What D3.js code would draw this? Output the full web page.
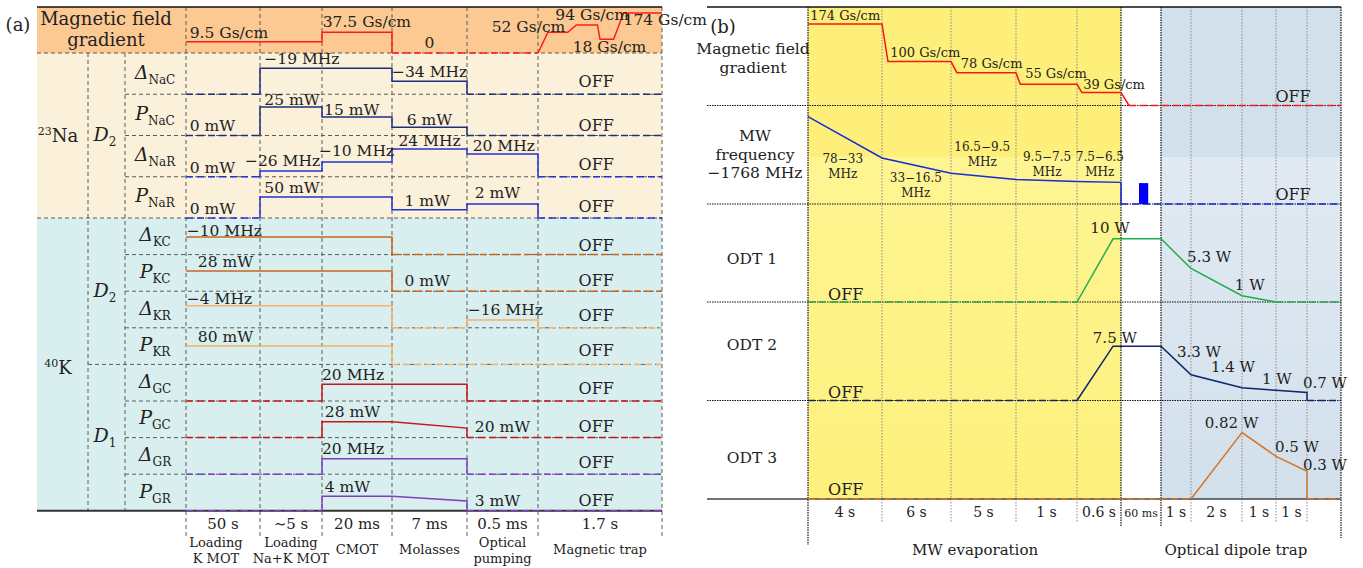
<!DOCTYPE html>
<html>
<head>
<meta charset="utf-8">
<script src="https://cdn.jsdelivr.net/npm/d3@7"></script>
<style>
  body { margin: 0; background: #fff; }
  svg text { font-family: "DejaVu Serif", serif; fill: #222; }
</style>
</head>
<body>
<svg id="chart" width="1363" height="568"></svg>
<script>
// ---------------- panel (a): MOT sequence ----------------
const phasesA = [["Loading", "K MOT"], ["Loading", "Na+K MOT"], ["CMOT"], ["Molasses"], ["Optical", "pumping"], ["Magnetic trap"]];
const durationsA = ["50 s", "∼5 s", "20 ms", "7 ms", "0.5 ms", "1.7 s"];
const rowNamesA = [["Δ", "NaC"], ["P", "NaC"], ["Δ", "NaR"], ["P", "NaR"],
                   ["Δ", "KC"], ["P", "KC"], ["Δ", "KR"], ["P", "KR"],
                   ["Δ", "GC"], ["P", "GC"], ["Δ", "GR"], ["P", "GR"]];

// traces: [phase position, level as fraction of row height], level 0 = off
const magA = [[0, .245], [2, .245], [2, .45], [3, .45], [3, 0], [5, 0], [5.08, .45], [5.24, .45],
              [5.31, .61], [5.48, .61], [5.5, .3], [5.61, .3], [5.69, .87], [6, .87]];
const dNaC = [[0, 0], [1, 0], [1, .63], [3, .63], [3, .315], [4, .315], [4, 0], [6, 0]];
const pNaC = [[0, 0], [1, 0], [1, .69], [2, .69], [2, .45], [3, .45], [3, .2], [4, .2], [4, 0], [6, 0]];
const dNaR = [[0, 0], [1, 0], [1, .14], [2, .14], [2, .36], [3, .36], [3, .67], [4, .67], [4, .55], [5, .55], [5, 0], [6, 0]];
const pNaR = [[0, 0], [1, 0], [1, .51], [3, .51], [3, .2], [4, .2], [4, .34], [5, .34], [5, 0], [6, 0]];
const dKC = [[0, .48], [3, .48], [3, 0], [6, 0]];
const pKC = [[0, .55], [3, .55], [3, 0], [6, 0]];
const dKR = [[0, .6], [3, .6], [3, 0], [4, 0], [4, .21], [5, .21], [5, 0], [6, 0]];
const pKR = [[0, .5], [3, .5], [3, 0], [6, 0]];
const dGC = [[0, 0], [2, 0], [2, .46], [4, .46], [4, 0], [6, 0]];
const pGC = [[0, 0], [2, 0], [2, .43], [3, .43], [4, .26], [4, 0], [6, 0]];
const dGR = [[0, 0], [2, 0], [2, .42], [4, .42], [4, 0], [6, 0]];
const pGR = [[0, 0], [2, 0], [2, .4], [3, .4], [4, .27], [4, 0], [6, 0]];
const tracesA = [dNaC, pNaC, dNaR, pNaR, dKC, pKC, dKR, pKR, dGC, pGC, dGR, pGR];

// value labels: [row (-1 = field gradient), text, phase position, level, anchor]
const valueLabelsA = [
  [-1, "9.5 Gs/cm", 0.05, 0.33, "start"], [-1, "37.5 Gs/cm", 2.01, 0.565, "start"],
  [-1, "0", 3.5, 0.11, "middle"], [-1, "52 Gs/cm", 5.22, 0.46, "end"],
  [-1, "94 Gs/cm", 5.14, 0.72, "start"], [-1, "18 Gs/cm", 5.28, 0.02, "start"],
  [-1, "174 Gs/cm", 5.69, 0.61, "start"],
  [0, "−19 MHz", 1.07, 0.73, "start"], [0, "−34 MHz", 3.0, 0.41, "start"],
  [1, "0 mW", 0.05, 0.11, "start"], [1, "25 mW", 1.07, 0.74, "start"],
  [1, "15 mW", 2.03, 0.5, "start"], [1, "6 mW", 3.5, 0.25, "middle"],
  [2, "0 mW", 0.05, 0.09, "start"], [2, "−26 MHz", 1.97, 0.26, "end"],
  [2, "−10 MHz", 1.95, 0.5, "start"], [2, "24 MHz", 3.5, 0.75, "middle"],
  [2, "20 MHz", 4.08, 0.62, "start"],
  [3, "0 mW", 0.05, 0.1, "start"], [3, "50 mW", 1.07, 0.61, "start"],
  [3, "1 mW", 3.47, 0.29, "middle"], [3, "2 mW", 4.11, 0.49, "start"],
  [4, "−10 MHz", 0.01, 0.51, "start"],
  [5, "28 mW", 0.16, 0.66, "start"], [5, "0 mW", 3.47, 0.14, "middle"],
  [6, "−4 MHz", 0.01, 0.65, "start"], [6, "−16 MHz", 4.01, 0.35, "start"],
  [7, "80 mW", 0.16, 0.61, "start"],
  [8, "20 MHz", 2.0, 0.57, "start"],
  [9, "28 mW", 2.04, 0.56, "start"], [9, "20 mW", 4.11, 0.15, "start"],
  [10, "20 MHz", 2.0, 0.55, "start"],
  [11, "4 mW", 2.04, 0.51, "start"], [11, "3 mW", 4.11, 0.13, "start"]
];
const offLevelA = [0.17, 0.11, 0.16, 0.15, 0.1, 0.14, 0.19, 0.23, 0.19, 0.15, 0.17, 0.13];

// ---------------- panel (b): evaporation ----------------
const durationsB = ["4 s", "6 s", "5 s", "1 s", "0.6 s", "60 ms", "1 s", "2 s", "1 s", "1 s"];
const stagesB = [["MW evaporation", 2.37], ["Optical dipole trap", 7.88]];
const rowNamesB = [["Magnetic field", "gradient"], ["MW", "frequency", "−1768 MHz"], ["ODT 1"], ["ODT 2"], ["ODT 3"]];

// traces: [phase position, value], null = off
const magB = [[0, 174], [1, 174], [1.087, 100], [2, 100], [2.09, 78], [3, 78], [3.07, 55], [4, 55],
              [4.11, 39], [5, 39], [5.2, null], [11, null]];          // Gs/cm
const mwB = [[0, 78], [1, 33], [2, 16.5], [3, 9.5], [4, 7.5], [5, 6.5], [5, null], [11, null]]; // MHz
const mwPulseT = [5.45, 5.68];
const mwPulseV = 5.7;
const odt1 = [[0, null], [4, null], [4.82, 10], [6, 10], [7, 5.3], [8, 1], [9, null], [11, null]];   // W
const odt2 = [[0, null], [4, null], [4.82, 7.5], [6, 7.5], [7, 3.3], [8, 1.4], [9, 1], [10, 0.7], [10, null], [11, null]];
const odt3 = [[0, null], [7, null], [8, 0.82], [9, 0.5], [10, 0.3], [10, null], [11, null]];
const tracesB = [magB, mwB, odt1, odt2, odt3];

// labels: [row, text lines, phase position, level in row, anchor]
const valueLabelsB = [
  [0, ["174 Gs/cm"], 0.03, 0.87, "start"], [0, ["100 Gs/cm"], 1.12, 0.49, "start"],
  [0, ["78 Gs/cm"], 2.15, 0.38, "start"], [0, ["55 Gs/cm"], 3.15, 0.28, "start"],
  [0, ["39 Gs/cm"], 4.14, 0.17, "start"],
  [1, ["78−33", "MHz"], 0.47, 0.42, "middle"], [1, ["33−16.5", "MHz"], 1.49, 0.22, "middle"],
  [1, ["16.5−9.5", "MHz"], 2.48, 0.54, "middle"], [1, ["9.5−7.5", "MHz"], 3.51, 0.44, "middle"],
  [1, ["7.5−6.5", "MHz"], 4.52, 0.44, "middle"],
  [2, ["10 W"], 4.75, 0.70, "middle"], [2, ["5.3 W"], 6.87, 0.41, "start"], [2, ["1 W"], 7.86, 0.12, "start"],
  [3, ["7.5 W"], 4.36, 0.58, "start"], [3, ["3.3 W"], 6.53, 0.44, "start"], [3, ["1.4 W"], 7.39, 0.29, "start"],
  [3, ["1 W"], 8.59, 0.17, "start"], [3, ["0.7 W"], 9.87, 0.13, "start"],
  [4, ["0.82 W"], 7.27, 0.72, "start"], [4, ["0.5 W"], 8.97, 0.48, "start"], [4, ["0.3 W"], 9.87, 0.29, "start"]
];
const offLabelsB = [[0, 9.55, 0.035], [1, 9.55, 0.04], [2, 0.51, 0.02], [3, 0.51, 0.025], [4, 0.51, 0.04]];

// ---------------- drawing ----------------
const svg = d3.select("#chart");
const colorsA = ["#1e2f7c", "#1e2f7c", "#2433d4", "#2433d4", "#c9661d", "#c9661d",
                 "#f5b26b", "#f5b26b", "#c8151b", "#c8151b", "#7d3fbf", "#7d3fbf"];
const colorsB = ["#ff1414", "#1a2ad6", "#1fae4f", "#10246a", "#d2772a"];

function text(g, x, y, s, size, anchor = "start") {
  return g.append("text").attr("x", x).attr("y", y).attr("font-size", size)
    .attr("text-anchor", anchor).text(s);
}
function lines(g, x, y, arr, size, lh, anchor = "middle") {
  arr.forEach((s, i) => text(g, x, y + i * lh, s, size, anchor));
}
function line(g, x1, y1, x2, y2, stroke, w, dash) {
  return g.append("line").attr("x1", x1).attr("y1", y1).attr("x2", x2).attr("y2", y2)
    .attr("stroke", stroke).attr("stroke-width", w).attr("stroke-dasharray", dash || null);
}
// split a trace into runs of "on" (solid) and "off" (dashed) segments
function drawTrace(g, pts, xf, yf, isOff, color, w) {
  const gen = d3.line().x(xf).y(yf);
  let run = [pts[0]], runOff = null;
  const flush = () => {
    if (run.length > 1)
      g.append("path").attr("d", gen(run)).attr("fill", "none").attr("stroke", color)
        .attr("stroke-width", w).attr("stroke-dasharray", runOff ? "7,4" : null)
        .attr("stroke-linejoin", "miter");
  };
  for (let i = 1; i < pts.length; i++) {
    const off = isOff(pts[i - 1]) && isOff(pts[i]);
    if (runOff === null) runOff = off;
    if (off !== runOff) { flush(); run = [pts[i - 1]]; runOff = off; }
    run.push(pts[i]);
  }
  flush();
}

// ===== panel (a)
const gA = svg.append("g");
const xA = d3.scaleLinear().domain(d3.range(7)).range([186, 260, 322, 392, 467, 538, 662]);
const leftA = 37, rightA = 662, topA = 7, magBotA = 53, naBotA = 218;
const boundsA = d3.range(5).map(i => magBotA + i * 41.25).concat(d3.range(1, 9).map(i => naBotA + i * 36.6));
const bottomA = boundsA[12];
const rowY = i => d3.scaleLinear().domain([0, 1]).range([boundsA[i + 1], boundsA[i]]);
const magY = d3.scaleLinear().domain([0, 1]).range([magBotA, topA]);

gA.append("rect").attr("x", leftA).attr("y", topA).attr("width", rightA - leftA).attr("height", magBotA - topA).attr("fill", "#fcc993");
gA.append("rect").attr("x", leftA).attr("y", magBotA).attr("width", rightA - leftA).attr("height", naBotA - magBotA).attr("fill", "#fbf0da");
gA.append("rect").attr("x", leftA).attr("y", naBotA).attr("width", rightA - leftA).attr("height", bottomA - naBotA).attr("fill", "#d9efef");

const gridA = "#5a5a5a", dashA = "4,3";
line(gA, leftA, magBotA, rightA, magBotA, gridA, 1, dashA);
line(gA, leftA, naBotA, rightA, naBotA, gridA, 1, dashA);
boundsA.slice(1, 12).forEach((b, i) => {
  if (i === 3) return;
  line(gA, i === 7 ? 88 : 125, b, rightA, b, gridA, 1, dashA);
});
line(gA, 88, magBotA, 88, bottomA, gridA, 1, dashA);
line(gA, 125, magBotA, 125, bottomA, gridA, 1, dashA);
d3.range(7).forEach(i => line(gA, xA(i), topA, xA(i), bottomA + 26, gridA, 1, dashA));
line(gA, leftA, topA, rightA, topA, "#111", 1.3);
line(gA, leftA, bottomA, rightA, bottomA, "#333", 2);

// traces
drawTrace(gA, magA, d => xA(d[0]), d => magY(d[1]), d => d[1] === 0, "#ff1a1a", 1.5);
tracesA.forEach((tr, i) => {
  const y = rowY(i);
  drawTrace(gA, tr, d => xA(d[0]), d => y(d[1]), d => d[1] === 0, colorsA[i], 1.5);
});

// labels
text(gA, 18, 31, "(a)", 18, "middle");
lines(gA, 106, 25, ["Magnetic field", "gradient"], 18, 21);
rowNamesA.forEach(([sym, sub], i) => {
  const cy = (boundsA[i] + boundsA[i + 1]) / 2;
  const t = gA.append("text").attr("x", 155).attr("y", cy + 5).attr("text-anchor", "middle");
  t.append("tspan").attr("font-style", "italic").attr("font-size", 19).text(sym);
  t.append("tspan").attr("font-size", 12).attr("dy", 5).text(sub);
});
function iso(g, x, y, mass, el) {
  const t = g.append("text").attr("x", x).attr("y", y).attr("text-anchor", "middle");
  t.append("tspan").attr("font-size", 11).attr("dy", -7).text(mass);
  t.append("tspan").attr("font-size", 18).attr("dy", 7).text(el);
}
function dLabel(g, x, y, n) {
  const t = g.append("text").attr("x", x).attr("y", y).attr("text-anchor", "middle");
  t.append("tspan").attr("font-style", "italic").attr("font-size", 19).text("D");
  t.append("tspan").attr("font-size", 12).attr("dy", 5).text(n);
}
iso(gA, 58, 142, "23", "Na");
iso(gA, 58, 374, "40", "K");
dLabel(gA, 105, 141, "2");
dLabel(gA, 105, 297, "2");
dLabel(gA, 105, 442, "1");

valueLabelsA.forEach(([r, s, t, lv, anchor]) => {
  const y = r < 0 ? magY(lv) : rowY(r)(lv);
  text(gA, xA(t), y, s, 15.5, anchor);
});
offLevelA.forEach((lv, i) => text(gA, xA(5.47), rowY(i)(lv), "OFF", 16, "middle"));

durationsA.forEach((s, i) => text(gA, (xA(i) + xA(i + 1)) / 2, 529, s, 15, "middle"));
phasesA.forEach((p, i) => {
  const cx = (xA(i) + xA(i + 1)) / 2 - (i === 0 ? 7 : 0);
  if (p.length === 1) text(gA, cx, 554, p[0], 13, "middle");
  else lines(gA, cx, 547, p, 13, 16);
});

// ===== panel (b)
const gB = svg.append("g");
const xB = d3.scaleLinear().domain(d3.range(12)).range([808, 882, 951, 1016, 1077, 1121, 1161, 1191, 1242, 1276, 1307, 1341]);
const leftB = 707, rightB = 1341, topB = 7;
const boundsB = [7, 105.5, 204, 302, 400.5, 499];
const bottomB = boundsB[5];
const yB = [
  d3.scaleLinear().domain([13.3, 207.7]).range([boundsB[1], boundsB[0]]),
  d3.scaleLinear().domain([-17, 90]).range([boundsB[2], boundsB[1]]),
  d3.scaleLinear().domain([0, 15.5]).range([boundsB[3], boundsB[2]]),
  d3.scaleLinear().domain([-0.49, 14]).range([boundsB[4], boundsB[3]]),
  d3.scaleLinear().domain([-0.073, 1.25]).range([boundsB[5], boundsB[4]])
];
const levelB = i => d3.scaleLinear().domain([0, 1]).range([boundsB[i + 1], boundsB[i]]);

// backgrounds with light band in lower MW row
const defs = svg.append("defs");
function grad(id, c1, c2) {
  const g = defs.append("linearGradient").attr("id", id).attr("x1", 0).attr("y1", 0).attr("x2", 0).attr("y2", 1);
  g.append("stop").attr("offset", 0).attr("stop-color", c1);
  g.append("stop").attr("offset", 1).attr("stop-color", c2);
}
grad("yellowLow", "#fef593", "#fdf07c");
grad("blueLow", "#e1eaf2", "#d2e0ec");
const bandY = 157;
gB.append("rect").attr("x", xB(0)).attr("y", topB).attr("width", xB(5) - xB(0)).attr("height", bandY - topB).attr("fill", "#fdef7a");
gB.append("rect").attr("x", xB(0)).attr("y", bandY).attr("width", xB(5) - xB(0)).attr("height", bottomB - bandY).attr("fill", "url(#yellowLow)");
gB.append("rect").attr("x", xB(6)).attr("y", topB).attr("width", xB(11) - xB(6)).attr("height", bandY - topB).attr("fill", "#d2e0ec");
gB.append("rect").attr("x", xB(6)).attr("y", bandY).attr("width", xB(11) - xB(6)).attr("height", bottomB - bandY).attr("fill", "url(#blueLow)");

// grid
[1, 2, 3, 4, 7, 8, 9, 10].forEach(i => line(gB, xB(i), topB, xB(i), 522, "#8a8a8a", 1, "1.5,1.5"));
line(gB, xB(0), topB, xB(0), 545, "#111", 1.2, "1.5,1");
line(gB, xB(5), topB, xB(5), 527, "#111", 1.2, "1.5,1");
line(gB, xB(6), topB, xB(6), 527, "#111", 1.2, "1.5,1");
line(gB, xB(11), topB, xB(11), 538, "#111", 1.2, "1.5,1");
boundsB.slice(1, 5).forEach(b => line(gB, leftB, b, rightB, b, "#111", 1.2, "1.5,1"));
line(gB, leftB, topB, rightB, topB, "#111", 1.3);
line(gB, leftB, bottomB, rightB, bottomB, "#444", 1.6);

// traces (off = on the row baseline, dashed)
tracesB.forEach((tr, i) => drawTrace(gB, tr, d => xB(d[0]),
  d => d[1] === null ? boundsB[i + 1] : yB[i](d[1]), d => d[1] === null, colorsB[i], 1.5));
gB.append("rect").attr("x", xB(mwPulseT[0])).attr("y", yB[1](mwPulseV))
  .attr("width", xB(mwPulseT[1]) - xB(mwPulseT[0])).attr("height", boundsB[2] - yB[1](mwPulseV))
  .attr("fill", "#0000ff");

// labels
text(gB, 723, 33, "(b)", 18, "middle");
lines(gB, 753, 54, rowNamesB[0], 15.5, 19);
lines(gB, 755, 141, rowNamesB[1], 15.5, 18.5);
[2, 3, 4].forEach((r, k) => text(gB, 752, [264, 350, 463][k], rowNamesB[r][0], 15.5, "middle"));

valueLabelsB.forEach(([r, arr, t, lv, anchor]) => {
  const size = r === 0 ? 13 : r === 1 ? 12 : 15;
  lines(gB, xB(t), levelB(r)(lv), arr, size, 15, anchor);
});
offLabelsB.forEach(([r, t, lv]) => text(gB, xB(t), levelB(r)(lv), "OFF", 16, "middle"));

durationsB.forEach((s, i) => text(gB, (xB(i) + xB(i + 1)) / 2, 517, s, i === 5 ? 11 : 14, "middle"));
stagesB.forEach(([s, t]) => text(gB, xB(t), 555, s, 15, "middle"));
</script>
</body>
</html>
